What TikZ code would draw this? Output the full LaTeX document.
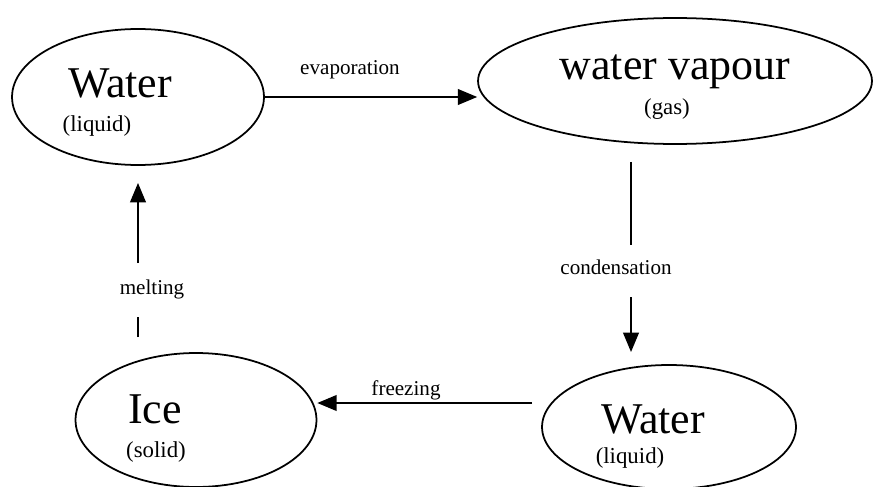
\documentclass[tikz,border=0pt]{standalone}
\usepackage{fontspec}
\setmainfont{Liberation Serif}
\usetikzlibrary{shapes.geometric,arrows.meta}

\begin{document}
\begin{tikzpicture}[x=0.02cm, y=-0.02cm,
    state/.style={draw, ellipse, line width=1pt, inner sep=0pt},
    big/.style={anchor=base, inner sep=0pt, font=\fontsize{25}{29}\selectfont},
    small/.style={anchor=base, inner sep=0pt, font=\fontsize{13}{15}\selectfont},
    lbl/.style={anchor=base, inner sep=0pt, font=\fontsize{12}{14}\selectfont},
    link/.style={line width=0.8pt},
    arr/.style={link, -{Triangle[length=11pt, width=9pt]}}]
    \useasboundingbox (0,0) rectangle (874,486);

    \node[state, minimum width=5.04cm, minimum height=2.72cm] (wl) at (138,97) {};
    \node[state, minimum width=7.88cm, minimum height=2.52cm] (vap) at (675,81) {};
    \node[state, minimum width=4.82cm, minimum height=2.68cm] (ice) at (196,420) {};
    \node[state, minimum width=5.08cm, minimum height=2.48cm] (wb) at (669,427) {};

    \node[big] (wlname) at (120,98) {Water};
    \node[small] (wlphase) at (97,132) {(liquid)};
    \node[big] (vapname) at (675,80) {water vapour};
    \node[small] (vapphase) at (667,115) {(gas)};
    \node[big] (icename) at (155,423) {Ice};
    \node[small] (icephase) at (156,457) {(solid)};
    \node[big] (wbname) at (653,433) {Water};
    \node[small] (wbphase) at (630,463) {(liquid)};

    \node[lbl] (evap) at (350,75) {evaporation};
    \node[lbl] (cond) at (616,274) {condensation};
    \node[lbl] (freeze) at (406,395) {freezing};
    \node[lbl] (melt) at (152,294) {melting};

    \coordinate (c1) at (631,162);
    \coordinate (c2) at (631,245);
    \coordinate (c3) at (631,297);
    \coordinate (c4) at (631,352);
    \coordinate (f1) at (532,403);
    \coordinate (m1) at (138,337);
    \coordinate (m2) at (138,317);
    \coordinate (m3) at (138,263);
    \coordinate (m4) at (138,183);

    \draw[arr] (wl.east) -- (vap.west |- wl.east);
    \draw[link] (c1) -- (c2);
    \draw[arr] (c3) -- (c4);
    \draw[arr] (f1) -- (ice.east |- f1);
    \draw[link] (m1) -- (m2);
    \draw[arr] (m3) -- (m4);
\end{tikzpicture}
\end{document}
